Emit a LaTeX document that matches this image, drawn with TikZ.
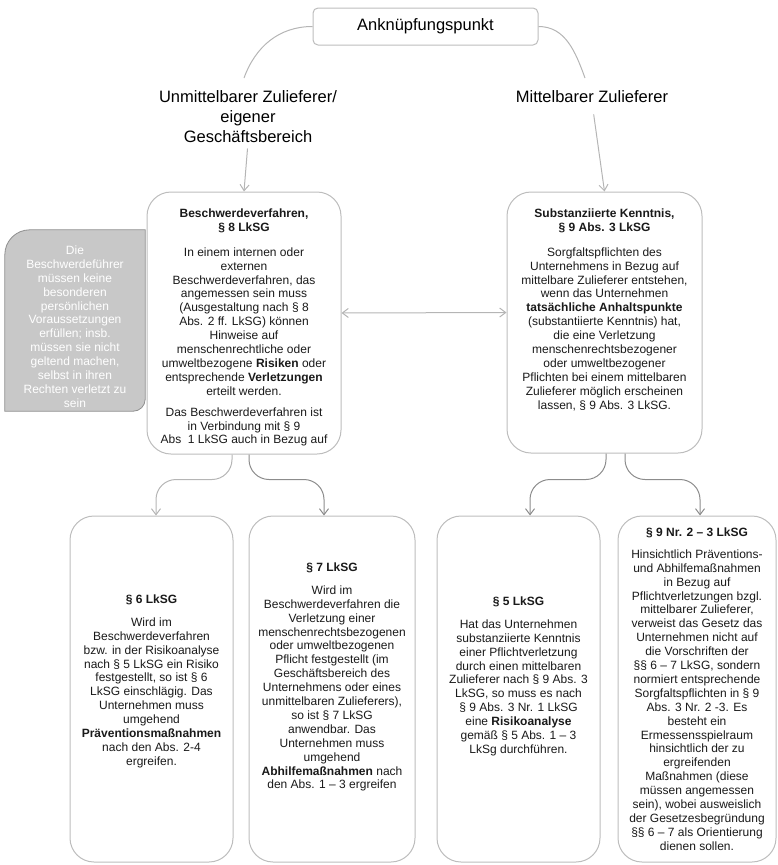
\documentclass[tikz,border=0pt]{standalone}
\usepackage{fontspec}
\setmainfont{Liberation Sans}
\usetikzlibrary{arrows.meta,calc,backgrounds}
\definecolor{boxline}{HTML}{BDBDBD}
\definecolor{lightline}{HTML}{B5B5B5}
\definecolor{darkline}{HTML}{8C8C8C}
\definecolor{grayfill}{HTML}{C8C8C8}
\definecolor{grayedge}{HTML}{8E8E8E}
\definecolor{txtcol}{HTML}{1A1A1A}
\newcommand\bodyfs{\fontsize{12}{13.9}\selectfont}
\newcommand\headfs{\fontsize{16.5}{20}\selectfont}
\begin{document}
\begin{tikzpicture}[x=1pt,y=-1pt,
  >={Straight Barb[length=6pt,width=9pt]},
  card/.style={draw=boxline, line width=1pt, rounded corners=24pt, fill=white, inner sep=0pt},
  body/.style={align=center, font=\bodyfs, text=txtcol, inner sep=0pt, anchor=north},
  head/.style={align=center, font=\headfs, text=black, inner sep=0pt, anchor=north},
  conn/.style={line width=1pt, ->},
]
\useasboundingbox (0,0) rectangle (777,865);

% top
\node[card, rounded corners=5pt, minimum width=225pt, minimum height=37pt, font=\headfs] (top) at (425.5,26.5) {Anknüpfungspunkt};
\node[head] (hl) at (248,90) {Unmittelbarer Zulieferer/\\eigener\\Geschäftsbereich};
\node[head] (hr) at (592,90) {Mittelbarer Zulieferer};
\coordinate (cl) at (244,78);
\coordinate (cr) at (585,78);
\draw[lightline, line width=1pt] (top.west) to[out=180,in=70] (cl);
\draw[lightline, line width=1pt] (top.east) to[out=0,in=110] (cr);

% middle boxes
\node[card, minimum width=194pt, minimum height=262pt] (lbox) at (244,323) {};
\node[card, minimum width=195pt, minimum height=261pt] (rbox) at (604.5,322.5) {};
\draw[conn, lightline, shorten <=6pt] (hl.south) -- (lbox.north);
\draw[conn, lightline, shorten <=12pt] (hr.south) -- (rbox.north);
\draw[lightline, line width=1pt, <->] ([yshift=10pt]lbox.east) -- ([yshift=10pt]rbox.west);

\node[body] (ltxt) at (244,208.5) {\textbf{Beschwerdeverfahren,}\\\textbf{§ 8 LkSG}\\[11pt]In einem internen oder\\externen\\Beschwerdeverfahren, das\\angemessen sein muss\\(Ausgestaltung nach § 8\\Abs. 2 ff. LkSG) können\\Hinweise auf\\menschenrechtliche oder\\umweltbezogene \textbf{Risiken} oder\\entsprechende \textbf{Verletzungen}\\erteilt werden.\\[7pt]Das Beschwerdeverfahren ist\\in Verbindung mit § 9\\Abs\ \ 1 LkSG auch in Bezug auf};
\node[body] (rtxt) at (604.5,208.5) {\textbf{Substanziierte Kenntnis,}\\\textbf{§ 9 Abs. 3 LkSG}\\[11pt]Sorgfaltspflichten des\\Unternehmens in Bezug auf\\mittelbare Zulieferer entstehen,\\wenn das Unternehmen\\\textbf{tatsächliche Anhaltspunkte}\\(substantiierte Kenntnis) hat,\\die eine Verletzung\\menschenrechtsbezogener\\oder umweltbezogener\\Pflichten bei einem mittelbaren\\Zulieferer möglich erscheinen\\lassen, § 9 Abs. 3 LkSG.};

% gray side box
\node[inner sep=0pt, minimum width=140pt, minimum height=181pt] (gbox) at (75,320.5) {};
\begin{scope}[on background layer]
\draw[draw=grayedge, fill=grayfill, line width=0.8pt] (gbox.south west) -- ([yshift=-25pt]gbox.north west) to[out=90,in=180] ([xshift=25pt]gbox.north west) -- (gbox.north east) -- ([yshift=12pt]gbox.south east) to[out=-90,in=0] ([xshift=-12pt]gbox.south east) -- cycle;
\end{scope}
\node[body, text=white] (gtxt) at (75,245.5) {Die\\Beschwerdeführer\\müssen keine\\besonderen\\persönlichen\\Voraussetzungen\\erfüllen; insb.\\müssen sie nicht\\geltend machen,\\selbst in ihren\\Rechten verletzt zu\\sein};

% bottom boxes
\node[card, minimum width=163pt, minimum height=346pt] (b1) at (151.5,689) {};
\node[card, minimum width=166pt, minimum height=346pt] (b2) at (332,689) {};
\node[card, minimum width=163pt, minimum height=346pt] (b3) at (518.5,689) {};
\node[card, minimum width=158pt, minimum height=346pt] (b4) at (697,689) {};

\draw[conn, lightline, rounded corners=20pt] ([xshift=-12pt]lbox.south) -- ++(0,25) -| ([xshift=4.5pt]b1.north);
\draw[conn, darkline, rounded corners=20pt] ([xshift=5pt]lbox.south) -- ++(0,25) -| ([xshift=-8pt]b2.north);
\draw[conn, darkline, rounded corners=20pt] ([xshift=1.5pt]rbox.south) -- ++(0,26) -| ([xshift=11.5pt]b3.north);
\draw[conn, darkline, rounded corners=20pt] ([xshift=20.5pt]rbox.south) -- ++(0,26) -| ([xshift=3pt]b4.north);

\node[body] (t1) at (151.5,594.5) {\textbf{§ 6 LkSG}\\[9pt]Wird im\\Beschwerdeverfahren\\bzw. in der Risikoanalyse\\nach § 5 LkSG ein Risiko\\festgestellt, so ist § 6\\LkSG einschlägig. Das\\Unternehmen muss\\umgehend\\\textbf{Präventionsmaßnahmen}\\nach den Abs. 2-4\\ergreifen.};
\node[body] (t2) at (332,562.5) {\textbf{§ 7 LkSG}\\[9pt]Wird im\\Beschwerdeverfahren die\\Verletzung einer\\menschenrechtsbezogenen\\oder umweltbezogenen\\Pflicht festgestellt (im\\Geschäftsbereich des\\Unternehmens oder eines\\unmittelbaren Zulieferers),\\so ist § 7 LkSG\\anwendbar. Das\\Unternehmen muss\\umgehend\\\textbf{Abhilfemaßnahmen} nach\\den Abs. 1 – 3 ergreifen};
\node[body] (t3) at (518.5,596.5) {\textbf{§ 5 LkSG}\\[9pt]Hat das Unternehmen\\substanziierte Kenntnis\\einer Pflichtverletzung\\durch einen mittelbaren\\Zulieferer nach § 9 Abs. 3\\LkSG, so muss es nach\\§ 9 Abs. 3 Nr. 1 LkSG\\eine \textbf{Risikoanalyse}\\gemäß § 5 Abs. 1 – 3\\LkSg durchführen.};
\node[body] (t4) at (697,527.5) {\textbf{§ 9 Nr. 2 – 3 LkSG}\\[8pt]Hinsichtlich Präventions-\\und Abhilfemaßnahmen\\in Bezug auf\\Pflichtverletzungen bzgl.\\mittelbarer Zulieferer,\\verweist das Gesetz das\\Unternehmen nicht auf\\die Vorschriften der\\§§ 6 – 7 LkSG, sondern\\normiert entsprechende\\Sorgfaltspflichten in § 9\\Abs. 3 Nr. 2 -3. Es\\besteht ein\\Ermessensspielraum\\hinsichtlich der zu\\ergreifenden\\Maßnahmen (diese\\müssen angemessen\\sein), wobei ausweislich\\der Gesetzesbegründung\\§§ 6 – 7 als Orientierung\\dienen sollen.};
\end{tikzpicture}
\end{document}
